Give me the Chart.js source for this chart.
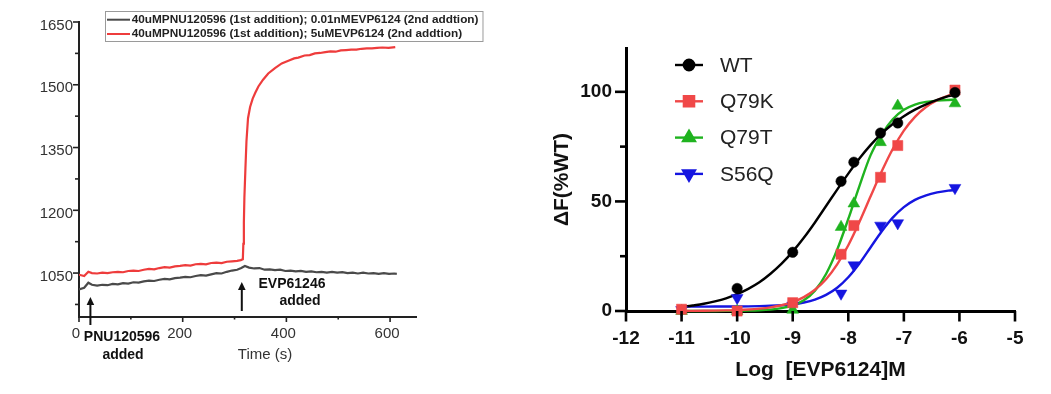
<!DOCTYPE html>
<html><head><meta charset="utf-8">
<script src="https://cdn.jsdelivr.net/npm/chart.js@4.4.0/dist/chart.umd.min.js"></script>
<style>
html,body{margin:0;padding:0;background:#fff;width:1051px;height:394px;overflow:hidden}
#l{position:absolute;left:0;top:0}
#r{position:absolute;left:510px;top:0}
</style></head><body>
<canvas id="l" width="510" height="394"></canvas>
<canvas id="r" width="541" height="394"></canvas>
<script>
// ---------- Left panel data ----------
const timeBlack = [0,10,18,25,35,45,55,65,75,85,95,105,115,125,135,145,155,165,175,185,195,205,215,225,235,245,255,265,275,285,295,305,313,320,328,338,348,358,368,378,388,398,408,418,428,438,448,458,468,478,488,498,508,518,528,538,548,558,568,578,588,598,608,613];
const signalBlack = [1011,1015,1027,1022,1020,1022,1021,1024,1023,1026,1025,1028,1027,1030,1032,1031,1034,1036,1035,1038,1039,1041,1040,1043,1045,1044,1047,1050,1049,1053,1056,1058,1062,1067,1063,1061,1062,1058,1059,1057,1058,1055,1056,1054,1055,1053,1054,1052,1053,1051,1053,1051,1052,1050,1051,1049,1051,1049,1050,1048,1050,1048,1049,1048];
const timeRed = [0,10,18,25,35,45,55,65,75,85,95,105,115,125,135,145,155,165,175,185,195,205,215,225,235,245,255,265,275,285,295,305,312,316,317,318,319,321,323,326,330,335,340,346,355,365,378,391,405,415,423,435,445,455,465,475,485,495,505,515,525,535,545,555,565,575,585,597,610];
const signalRed = [1046,1043,1053,1050,1049,1051,1050,1052,1053,1052,1055,1056,1055,1058,1060,1059,1062,1064,1063,1066,1067,1069,1068,1071,1072,1071,1074,1075,1074,1077,1078,1079,1081,1083,1120,1170,1230,1300,1365,1420,1447,1467,1481,1496,1512,1527,1540,1551,1558,1563,1565,1570,1571,1575,1576,1578,1580,1579,1582,1583,1584,1584,1586,1587,1587,1588,1589,1588,1590];
const leftLegend = ["40uMPNU120596 (1st addition); 0.01nMEVP6124 (2nd addtion)", "40uMPNU120596 (1st addition); 5uMEVP6124 (2nd addtion)"];
const leftYTicks = [1050,1200,1350,1500,1650];
const leftYMinor = [975,1125,1275,1425,1575];
const leftXTicks = [0,200,400,600];
const leftXMinor = [100,300,500];
const pnuTime = 22;
const evpTime = 314;

// ---------- Right panel data ----------
const logConc = [-11,-10,-9,-8.13,-7.9,-7.42,-7.11,-6.08];
const wtVals   = [null,10.3,26.8,59.2,67.9,81.2,85.8,99.7];
const q79kVals = [0.8,0,3.8,25.9,39,61,75.5,100.8];
const q79tVals = [0,0,0.5,38.3,49,77,93.6,94.7];
const s56qVals = [0.5,6,2.5,8,20.9,39,40.1,56.2];
const fitX = [-11,-10.8,-10.6,-10.4,-10.2,-10,-9.8,-9.6,-9.4,-9.2,-9,-8.8,-8.6,-8.4,-8.2,-8,-7.8,-7.6,-7.4,-7.2,-7,-6.8,-6.6,-6.4,-6.2,-6.08];
const wtFit   = [1.8,2.5,3.3,4.4,5.8,7.7,10.1,13.1,17.0,21.6,27.1,33.4,40.4,47.9,55.4,62.7,69.6,75.7,80.9,85.3,88.9,91.9,94.3,96.3,98.0,98.8];
const q79kFit = [0.04,0.07,0.11,0.17,0.27,0.42,0.67,1.06,1.66,2.62,4.08,6.32,9.67,14.5,21.3,30.0,40.6,52.2,63.6,73.9,82.3,88.6,93.1,96.2,98.3,99.2];
const q79tFit = [0,0,0.01,0.02,0.04,0.08,0.16,0.32,0.64,1.28,2.51,4.89,9.29,16.9,28.0,42.0,57.0,71.0,80.5,87.5,91.8,94.2,95.4,96.0,96.3,96.4];
const s56qFit = [2.0,2.0,2.01,2.02,2.04,2.07,2.12,2.21,2.37,2.64,3.10,3.89,5.20,7.34,10.6,15.4,21.7,29.0,36.3,42.6,47.4,50.7,52.8,54.1,54.9,55.2];
const seriesNames = ["WT","Q79K","Q79T","S56Q"];
const rightXTicks = [-12,-11,-10,-9,-8,-7,-6,-5];
const rightYTicks = [0,50,100];
const rightYMinor = [25,75];

// ---------- common ----------
const FONT = '"Liberation Sans", Arial, Helvetica, sans-serif';
Chart.defaults.font.family = FONT;
const zip = (xs, ys) => xs.map((x, i) => ({x: x, y: ys[i]}));
const seg = (ctx, x1, y1, x2, y2) => { ctx.beginPath(); ctx.moveTo(x1, y1); ctx.lineTo(x2, y2); ctx.stroke(); };
const plain = v => String(v);

const blackTrace = '#4a4a4a';
const redTrace = '#ee3c3c';

function arrow(ctx, x, yTip, yEnd) {
  ctx.strokeStyle = '#111'; ctx.fillStyle = '#111'; ctx.lineWidth = 2;
  seg(ctx, x, yTip + 6, x, yEnd);
  ctx.beginPath(); ctx.moveTo(x, yTip); ctx.lineTo(x - 3.8, yTip + 8); ctx.lineTo(x + 3.8, yTip + 8); ctx.closePath(); ctx.fill();
}

const leftDecor = {
  id: 'leftDecor',
  afterDraw(chart) {
    const ctx = chart.ctx, xs = chart.scales.x, ys = chart.scales.y, a = chart.chartArea;
    ctx.save();
    ctx.strokeStyle = '#222'; ctx.lineWidth = 1.6;
    leftYTicks.forEach(v => { const p = ys.getPixelForValue(v); seg(ctx, a.left - 6, p, a.left, p); });
    leftYMinor.forEach(v => { const p = ys.getPixelForValue(v); seg(ctx, a.left - 4, p, a.left, p); });
    leftXTicks.forEach(v => { const p = xs.getPixelForValue(v); seg(ctx, p, a.bottom, p, a.bottom + 5); });
    leftXMinor.forEach(v => { const p = xs.getPixelForValue(v); seg(ctx, p, a.bottom, p, a.bottom + 2.5); });
    // legend box
    ctx.font = 'bold 11.8px ' + FONT;
    const tw = Math.max(...leftLegend.map(t => ctx.measureText(t).width));
    ctx.strokeStyle = '#9a9a9a'; ctx.lineWidth = 1;
    ctx.strokeRect(105.5, 11.5, 131.7 - 105 + tw + 4, 30);
    const cols = [blackTrace, redTrace];
    leftLegend.forEach((t, i) => {
      const yy = 19.7 + i * 14.3;
      ctx.strokeStyle = cols[i]; ctx.lineWidth = 2;
      seg(ctx, 107, yy, 130, yy);
      ctx.fillStyle = '#222'; ctx.textBaseline = 'middle'; ctx.textAlign = 'left';
      ctx.fillText(t, 131.7, yy);
    });
    // arrows
    arrow(ctx, xs.getPixelForValue(pnuTime), a.bottom - 20, a.bottom + 8);
    arrow(ctx, xs.getPixelForValue(evpTime), a.bottom - 35, a.bottom - 6);
    // annotations
    ctx.fillStyle = '#111'; ctx.font = 'bold 14px ' + FONT; ctx.textAlign = 'center'; ctx.textBaseline = 'middle';
    ctx.fillText('PNU120596', 122, 337);
    ctx.fillText('added', 123, 355);
    ctx.fillText('EVP61246', 292, 284);
    ctx.fillText('added', 300, 301);
    // x title
    ctx.fillStyle = '#333'; ctx.font = '15px ' + FONT;
    ctx.fillText('Time (s)', 265, 355);
    ctx.restore();
  }
};

new Chart(document.getElementById('l'), {
  type: 'line',
  data: {
    datasets: [
      {data: zip(timeRed, signalRed), borderColor: redTrace, borderWidth: 2.2, pointRadius: 0, tension: 0},
      {data: zip(timeBlack, signalBlack), borderColor: blackTrace, borderWidth: 2.2, pointRadius: 0, tension: 0}
    ]
  },
  options: {
    responsive: false, animation: false,
    layout: {padding: {left: 0, right: 94, top: 22, bottom: 0}},
    plugins: {legend: {display: false}, tooltip: {enabled: false}},
    scales: {
      x: {
        type: 'linear', min: 0, max: 650,
        afterBuildTicks: s => { s.ticks = leftXTicks.map(v => ({value: v})); },
        afterFit: s => { s.height = 77; },
        grid: {display: false, drawTicks: false},
        border: {display: true, color: '#222', width: 2},
        ticks: {font: {size: 15}, color: '#333', padding: 8, labelOffset: -3, maxRotation: 0, autoSkip: false, callback: plain}
      },
      y: {
        type: 'linear', min: 945, max: 1650,
        afterBuildTicks: s => { s.ticks = leftYTicks.map(v => ({value: v})); },
        afterFit: s => { s.width = 79; },
        grid: {display: false, drawTicks: false},
        border: {display: true, color: '#222', width: 2},
        ticks: {font: {size: 15}, color: '#333', padding: 6, labelOffset: 3.5, autoSkip: false, callback: plain}
      }
    }
  },
  plugins: [leftDecor]
});

// ---------- Right chart ----------
const styles = [
  {color: '#000000', pointStyle: 'circle', radius: 5.2, rotation: 0},
  {color: '#f04848', pointStyle: 'rect', radius: 7.2, rotation: 0},
  {color: '#1fb31f', pointStyle: 'triangle', radius: 6.8, rotation: 0},
  {color: '#1515e0', pointStyle: 'triangle', radius: 6.8, rotation: 180}
];
const pointVals = [wtVals, q79kVals, q79tVals, s56qVals];
const fitVals = [wtFit, q79kFit, q79tFit, s56qFit];

const rightDatasets = [];
pointVals.forEach((vals, i) => {
  const s = styles[i];
  rightDatasets.push({
    label: seriesNames[i], data: zip(logConc, vals), showLine: false, order: i,
    pointStyle: s.pointStyle, pointRadius: s.radius, pointRotation: s.rotation,
    backgroundColor: s.color, borderColor: s.color, pointBorderWidth: 0.5, clip: false
  });
});
fitVals.forEach((vals, i) => {
  const s = styles[i];
  rightDatasets.push({
    label: seriesNames[i] + ' fit', data: zip(fitX, vals), showLine: true, order: 10 + i,
    borderColor: s.color, borderWidth: 2.4, pointRadius: 0, cubicInterpolationMode: 'monotone', clip: false
  });
});

const rightDecor = {
  id: 'rightDecor',
  afterDraw(chart) {
    const ctx = chart.ctx, xs = chart.scales.x, ys = chart.scales.y, a = chart.chartArea;
    ctx.save();
    ctx.strokeStyle = '#000'; ctx.lineWidth = 2.6;
    rightXTicks.forEach(v => { const p = xs.getPixelForValue(v); seg(ctx, p, a.bottom, p, a.bottom + 10.5); });
    rightYTicks.forEach(v => { const p = ys.getPixelForValue(v); seg(ctx, a.left - 11, p, a.left, p); });
    rightYMinor.forEach(v => { const p = ys.getPixelForValue(v); seg(ctx, a.left - 6, p, a.left, p); });
    // legend
    ctx.font = '21px ' + FONT; ctx.textAlign = 'left'; ctx.textBaseline = 'middle';
    seriesNames.forEach((n, i) => {
      const s = styles[i];
      const yy = 65 + i * 36.3;
      ctx.strokeStyle = s.color; ctx.fillStyle = s.color; ctx.lineWidth = 2.4;
      seg(ctx, 165, yy, 193, yy);
      Chart.helpers.drawPoint(ctx, {pointStyle: s.pointStyle, radius: s.radius, rotation: s.rotation, borderWidth: 0.5}, 179, yy);
      ctx.fillStyle = '#222';
      ctx.fillText(n, 210, yy + 1);
    });
    ctx.restore();
  }
};

new Chart(document.getElementById('r'), {
  type: 'line',
  data: {datasets: rightDatasets},
  options: {
    responsive: false, animation: false,
    layout: {padding: {left: 0, right: 36, top: 48, bottom: 0}},
    plugins: {legend: {display: false}, tooltip: {enabled: false}},
    scales: {
      x: {
        type: 'linear', min: -12, max: -5,
        afterBuildTicks: s => { s.ticks = rightXTicks.map(v => ({value: v})); },
        afterFit: s => { s.height = 83; },
        grid: {display: false, drawTicks: false},
        border: {display: true, color: '#000', width: 3},
        ticks: {font: {size: 19, weight: 'bold'}, color: '#111', padding: 16, maxRotation: 0, autoSkip: false, callback: plain},
        title: {display: true, text: 'Log  [EVP6124]M', font: {size: 21, weight: 'bold'}, color: '#111', padding: {top: 0, bottom: 11}}
      },
      y: {
        type: 'linear', min: 0, max: 120,
        afterBuildTicks: s => { s.ticks = rightYTicks.map(v => ({value: v})); },
        afterFit: s => { s.width = 116; },
        grid: {display: false, drawTicks: false},
        border: {display: true, color: '#000', width: 3},
        ticks: {font: {size: 19, weight: 'bold'}, color: '#111', padding: 14, autoSkip: false, callback: plain},
        title: {display: true, text: 'ΔF(%WT)', font: {size: 21, weight: 'bold'}, color: '#111', padding: {top: 40, bottom: 0}}
      }
    }
  },
  plugins: [rightDecor]
});
</script>
</body></html>
